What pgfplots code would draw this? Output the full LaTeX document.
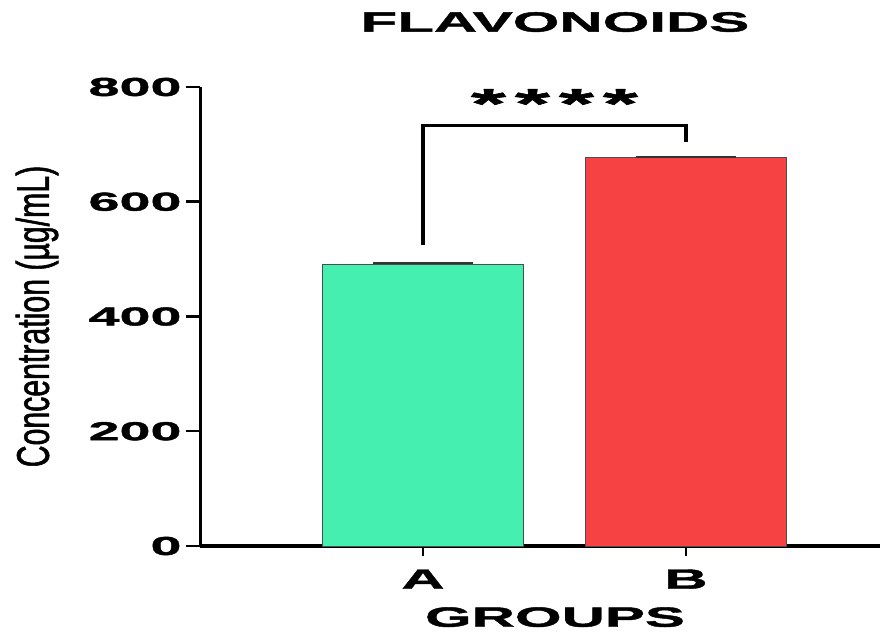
\documentclass[border=0pt]{standalone}
\usepackage{pgfplots}
\pgfplotsset{compat=1.18}
\usepackage{fontspec}
\setmainfont{Liberation Sans}
\newfontfamily\wideb[FakeStretch=2.15, FakeBold=1.5]{Liberation Sans Bold}
\newfontfamily\narrowf[FakeStretch=0.66, FakeBold=1.2]{Liberation Sans}
\definecolor{barA}{HTML}{44EFAF}
\definecolor{barB}{HTML}{F74244}

\begin{document}
\begin{tikzpicture}
\useasboundingbox (0,0) rectangle (881bp,633bp);
\begin{axis}[
  at={(200bp,87bp)}, anchor=south west,
  scale only axis, width=680bp, height=459bp,
  xmin=-0.848, xmax=1.738, ymin=0, ymax=800,
  axis x line*=bottom, axis y line*=left,
  axis line style={line width=3bp, black},
  xtick={0,1}, xticklabels={A,B},
  ytick={0,200,400,600,800},
  tick align=outside,
  major tick length=14bp,
  tick style={line width=2.5bp, black},
  x tick style={/pgfplots/major tick length=10bp},
  /pgf/number format/assume math mode=true,
  y tick label style={font=\wideb\fontsize{26}{26}\selectfont, xshift=-1bp},
  x tick label style={font=\wideb\fontsize{28}{28}\selectfont, yshift=-6bp},
  title={\wideb\fontsize{28}{28}\selectfont FLAVONOIDS},
  title style={at={(axis description cs:0.522,1.1285)}, anchor=center},
  xlabel={\wideb\fontsize{28}{28}\selectfont GROUPS},
  xlabel style={at={(axis description cs:0.522,-0.155)}, anchor=center},
  ylabel={\narrowf\fontsize{46}{46}\selectfont Concentration (µg/mL)},
  ylabel style={at={(axis description cs:-0.2397,0.5)}, anchor=center, rotate=0},
  clip=false,
]
  % group means with their (very small) error bars
  \addplot[ybar, bar width=0.764, bar shift=0pt, fill=barA, draw=black!70, line width=0.8bp,
    error bars/.cd, y dir=plus, y explicit, error mark=|,
    error bar style={line width=2bp, black!80},
    error mark options={mark size=50bp, line width=2bp, black!80}]
    coordinates {(0,491) +- (0,1.5)};
  \addplot[ybar, bar width=0.764, bar shift=0pt, fill=barB, draw=black!70, line width=0.8bp,
    error bars/.cd, y dir=plus, y explicit, error mark=|,
    error bar style={line width=2bp, black!80},
    error mark options={mark size=50bp, line width=2bp, black!80}]
    coordinates {(1,677) +- (0,1.5)};
  % significance bracket
  \draw[line width=3.5bp, black] (axis cs:0,524) -- (axis cs:0,733) -- (axis cs:1,733) -- (axis cs:1,705);
  \node[anchor=center] at (axis cs:0.5,771)
    {\wideb\fontsize{42}{42}\selectfont *\hspace{9bp}*\hspace{9bp}*\hspace{9bp}*};
\end{axis}
\end{tikzpicture}
\end{document}
